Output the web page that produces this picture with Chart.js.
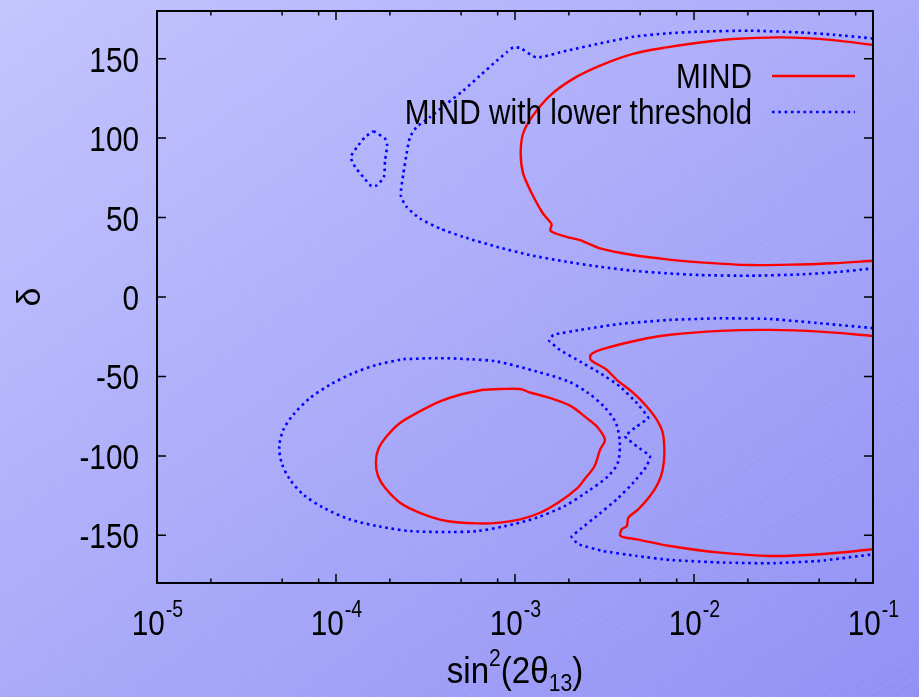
<!DOCTYPE html>
<html>
<head>
<meta charset="utf-8">
<title>MIND contours</title>
<script src="https://cdn.jsdelivr.net/npm/chart.js@4.4.1/dist/chart.umd.min.js"></script>
<style>
  html, body { margin: 0; padding: 0; }
  body {
    width: 919px;
    height: 697px;
    overflow: hidden;
    background:
      repeating-linear-gradient(-30deg, rgba(255,255,255,0.05) 0 1px, transparent 1px 9px),
      linear-gradient(to bottom right, #c4c4fe, #aaaaf9 50%, #9191f5);
  }
  canvas { display: block; }
</style>
</head>
<body>
<canvas id="contourChart" width="919" height="697"></canvas>
<script>
// ---------------- AXES ----------------
const xTickValues = [1e-5, 1e-4, 1e-3, 1e-2, 1e-1];
const xTickExponents = ["-5", "-4", "-3", "-2", "-1"];
const xMinorSteps = [2, 5, 8];
const yTickValues = [-150, -100, -50, 0, 50, 100, 150];

// ---------------- MIND (red) ----------------
const mindUpperX = [0.1, 0.0598, 0.0314, 0.0165, 0.0108, 7.04e-3, 4.56e-3, 2.99e-3, 2.11e-3, 1.57e-3,
  1.26e-3, 1.11e-3, 1.076e-3, 1.11e-3, 1.24e-3, 1.43e-3, 1.60e-3, 1.58e-3, 1.94e-3, 2.31e-3,
  2.99e-3, 4.56e-3, 7.04e-3, 0.0108, 0.0206, 0.0391, 0.0598, 0.1];
const mindUpperY = [158.6, 161.7, 163.4, 162.4, 160.2, 157.1, 153.0, 145.6, 137.3, 126.8,
  114.2, 102.9, 90.4, 77.8, 65.3, 52.7, 45.8, 41.6, 37.8, 35.8,
  30.6, 26.4, 23.7, 21.8, 20.1, 20.5, 21.2, 22.8];

const mindLowerX = [0.1, 0.0506, 0.0266, 0.014, 7.34e-3, 4.79e-3, 2.99e-3, 2.65e-3, 2.65e-3, 3.25e-3,
  3.70e-3, 4.58e-3, 5.44e-3, 6.19e-3, 6.69e-3, 6.83e-3, 6.69e-3, 6.32e-3, 5.68e-3, 4.88e-3,
  4.30e-3, 4.21e-3, 3.94e-3, 3.89e-3, 4.79e-3, 7.34e-3, 0.014, 0.0266, 0.0506, 0.1];
const mindLowerY = [-24.5, -21.8, -20.7, -21.3, -23.8, -27.4, -33.3, -36.4, -39.5, -45.8,
  -52.1, -60.4, -68.9, -77.2, -85.5, -98.1, -108.6, -116.9, -125.3, -133.7,
  -138.9, -144.2, -146.2, -150.4, -152.5, -156.7, -160.9, -163.0, -161.9, -158.8];

const mindIslandX = [6.65e-4, 8.25e-4, 1.07e-3, 1.21e-3, 1.50e-3, 2.03e-3, 2.51e-3, 2.86e-3, 3.18e-3, 2.99e-3,
  2.78e-3, 2.44e-3, 2.24e-3, 1.78e-3, 1.38e-3, 1.07e-3, 8.25e-4, 6.11e-4, 4.15e-4, 2.94e-4,
  2.28e-4, 1.88e-4, 1.72e-4, 1.67e-4, 1.72e-4, 1.92e-4, 2.28e-4, 2.94e-4, 3.81e-4, 4.93e-4, 6.65e-4];
const mindIslandY = [-58.4, -57.9, -57.9, -60.1, -62.9, -68.4, -76.1, -81.4, -89.8, -96.0,
  -106.5, -114.9, -120.1, -128.7, -135.8, -140.0, -142.0, -142.5, -141.0, -135.8,
  -129.5, -120.1, -112.8, -104.4, -96.0, -87.7, -79.3, -72.0, -65.7, -61.5, -58.4];

// ---------------- MIND with lower threshold (blue) ----------------
const lowUpperX = [0.1, 0.06, 0.0391, 0.0206, 0.0108, 7.04e-3, 4.58e-3, 2.99e-3, 1.94e-3, 1.32e-3,
  1.07e-3, 9.78e-4, 8.99e-4, 7.90e-4, 6.37e-4, 5.14e-4, 4.15e-4, 3.35e-4, 2.82e-4, 2.59e-4,
  2.48e-4, 2.38e-4, 2.30e-4, 2.48e-4, 2.94e-4, 3.81e-4, 5.14e-4, 7.90e-4, 1.21e-3, 1.94e-3,
  2.99e-3, 4.58e-3, 7.04e-3, 0.0108, 0.0206, 0.0391, 0.06, 0.1];
const lowUpperY = [162.7, 165.1, 166.5, 167.6, 167.0, 165.9, 163.8, 159.6, 155.0, 150.8,
  156.7, 157.1, 154.0, 148.7, 139.3, 129.9, 121.6, 113.2, 106.9, 100.6,
  90.2, 77.6, 64.0, 56.7, 49.4, 43.1, 37.8, 31.6, 26.4, 22.2,
  19.0, 16.5, 14.9, 13.8, 13.4, 14.2, 15.5, 18.0];

const lowSpotX = [1.62e-4, 1.88e-4, 1.93e-4, 1.88e-4, 1.85e-4, 1.69e-4, 1.58e-4, 1.42e-4, 1.28e-4, 1.21e-4,
  1.31e-4, 1.45e-4, 1.62e-4];
const lowSpotY = [104.4, 99.6, 95.4, 86.0, 75.5, 70.3, 69.7, 75.5, 81.8, 88.1,
  94.3, 100.6, 104.4];

const lowLowerX = [0.1, 0.0506, 0.0266, 0.014, 7.34e-3, 3.86e-3, 2.31e-3, 1.64e-3, 1.55e-3, 1.78e-3,
  2.31e-3, 2.99e-3, 3.86e-3, 4.79e-3, 5.55e-3, 4.79e-3, 4.12e-3, 4.79e-3, 5.68e-3, 5.44e-3,
  4.58e-3, 3.70e-3, 2.86e-3, 2.31e-3, 2.07e-3, 2.26e-3, 3.11e-3, 4.79e-3, 7.34e-3, 0.014,
  0.0266, 0.0506, 0.1];
const lowLowerY = [-19.6, -16.5, -13.8, -13.4, -14.4, -16.9, -20.7, -23.8, -27.4, -33.3,
  -40.6, -47.9, -56.3, -66.7, -76.1, -81.4, -87.7, -94.0, -100.2, -106.5,
  -116.9, -127.4, -137.9, -146.2, -150.8, -155.6, -159.9, -163.0, -165.5, -167.1,
  -167.6, -166.1, -161.9];

const lowIslandX = [2.38e-4, 3.72e-4, 5.61e-4, 7.93e-4, 1.32e-3, 1.99e-3, 2.56e-3, 3.14e-3, 3.66e-3, 3.85e-3,
  3.75e-3, 3.31e-3, 2.56e-3, 1.89e-3, 1.32e-3, 8.79e-4, 6.11e-4, 4.32e-4, 2.59e-4, 1.76e-4,
  1.20e-4, 8.49e-5, 6.57e-5, 5.53e-5, 4.97e-5, 4.82e-5, 5.08e-5, 5.77e-5, 7.16e-5, 9.26e-5,
  1.25e-4, 1.69e-4, 2.38e-4];
const lowIslandY = [-39.1, -38.5, -39.2, -40.6, -46.9, -53.2, -60.4, -68.9, -79.3, -91.8,
  -104.4, -112.8, -122.2, -131.6, -138.9, -144.2, -147.3, -147.9, -147.3, -144.5,
  -140.0, -132.6, -124.3, -114.9, -104.4, -94.0, -83.5, -74.1, -63.6, -55.2,
  -47.9, -42.7, -39.1];

// ---------------- STYLE ----------------
const FONT = '"Liberation Sans", Arial, sans-serif';
const NARROW = 0.85; // the original lettering is a condensed Helvetica
const RED = "#ff0000";
const BLUE = "#0000ff";

function toPoints(xs, ys) {
  return xs.map((v, i) => ({ x: v, y: ys[i] }));
}

function mindSet(xs, ys, label, tension) {
  return { label, legend: !!label, data: toPoints(xs, ys), borderColor: RED, borderWidth: 2.4,
    showLine: true, pointRadius: 0, tension, fill: false };
}
function lowSet(xs, ys, label, tension) {
  return { label, legend: !!label, data: toPoints(xs, ys), borderColor: BLUE, borderWidth: 2.6,
    borderDash: [2.6, 3.7], showLine: true, pointRadius: 0, tension, fill: false };
}

// condensed text, returns drawn width
function narrowText(ctx, text, x, y, size, align, sx = NARROW) {
  ctx.save();
  ctx.font = `${size}px ${FONT}`;
  const w = ctx.measureText(text).width * sx;
  const x0 = align === "right" ? x - w : align === "center" ? x - w / 2 : x;
  ctx.translate(x0, y);
  ctx.scale(sx, 1);
  ctx.textAlign = "left";
  ctx.fillText(text, 0, 0);
  ctx.restore();
  return w;
}
function textWidth(ctx, text, size, sx = NARROW) {
  ctx.font = `${size}px ${FONT}`;
  return ctx.measureText(text).width * sx;
}

// gnuplot-like frame, inward ticks, labels and key
const gnuplotDecor = {
  id: "gnuplotDecor",
  afterDatasetsDraw(chart) {
    const { ctx, chartArea: a, scales: { x, y } } = chart;
    ctx.save();

    // ticks
    ctx.strokeStyle = "#000";
    ctx.lineWidth = 1.5;
    ctx.beginPath();
    const vTick = (px, len) => {
      ctx.moveTo(px, a.bottom); ctx.lineTo(px, a.bottom - len);
      ctx.moveTo(px, a.top); ctx.lineTo(px, a.top + len);
    };
    xTickValues.forEach((v, i) => {
      vTick(x.getPixelForValue(v), 9);
      if (i < xTickValues.length - 1) {
        xMinorSteps.forEach(m => vTick(x.getPixelForValue(v * m), 4.5));
      }
    });
    yTickValues.forEach(v => {
      const py = y.getPixelForValue(v);
      ctx.moveTo(a.left, py); ctx.lineTo(a.left + 9, py);
      ctx.moveTo(a.right, py); ctx.lineTo(a.right - 9, py);
    });
    ctx.stroke();

    // frame
    ctx.lineWidth = 2;
    ctx.strokeRect(a.left, a.top, a.right - a.left, a.bottom - a.top);

    ctx.fillStyle = "#000";
    ctx.textBaseline = "alphabetic";

    // y tick labels
    yTickValues.forEach(v => narrowText(ctx, String(v), a.left - 18, y.getPixelForValue(v) + 13, 35, "right"));

    // x tick labels: 10^n
    xTickValues.forEach((v, i) => {
      const wBase = textWidth(ctx, "10", 35);
      const wExp = textWidth(ctx, xTickExponents[i], 23);
      const left = x.getPixelForValue(v) - (wBase + wExp) / 2;
      narrowText(ctx, "10", left, 635, 35, "left");
      narrowText(ctx, xTickExponents[i], left + wBase + 1, 617, 23, "left");
    });

    // x title: sin^2(2θ13)
    const parts = [
      { t: "sin", s: 36, dy: 0 },
      { t: "2", s: 23, dy: -17 },
      { t: "(2θ", s: 36, dy: 0 },
      { t: "13", s: 23, dy: 8 },
      { t: ")", s: 36, dy: 0 }
    ];
    const TSX = 0.92;
    let total = 0;
    parts.forEach(p => { p.w = textWidth(ctx, p.t, p.s, TSX); total += p.w; });
    let cx = (a.left + a.right) / 2 - total / 2;
    parts.forEach(p => { narrowText(ctx, p.t, cx, 683 + p.dy, p.s, "left", TSX); cx += p.w; });

    // y title: δ
    ctx.save();
    ctx.translate(31, (a.top + a.bottom) / 2);
    ctx.rotate(-Math.PI / 2);
    ctx.textAlign = "center";
    ctx.textBaseline = "middle";
    ctx.font = `34px ${FONT}`;
    ctx.fillText("δ", 0, 0);
    ctx.restore();

    // key (top right)
    const keyRows = chart.data.datasets.filter(d => d.legend);
    keyRows.forEach((d, i) => {
      const ky = 76 + i * 36;
      narrowText(ctx, d.label, a.right - 121, ky + 12, 35, "right");
      ctx.save();
      ctx.strokeStyle = d.borderColor;
      ctx.lineWidth = d.borderWidth;
      ctx.setLineDash(d.borderDash || []);
      ctx.beginPath();
      ctx.moveTo(a.right - 101, ky);
      ctx.lineTo(a.right - 18, ky);
      ctx.stroke();
      ctx.restore();
    });

    ctx.restore();
  }
};

new Chart(document.getElementById("contourChart"), {
  type: "scatter",
  data: {
    datasets: [
      mindSet(mindUpperX, mindUpperY, "MIND", 0.3),
      lowSet(lowUpperX, lowUpperY, "MIND with lower threshold", 0.2),
      mindSet(mindLowerX, mindLowerY, "", 0.3),
      mindSet(mindIslandX, mindIslandY, "", 0.3),
      lowSet(lowSpotX, lowSpotY, "", 0.2),
      lowSet(lowLowerX, lowLowerY, "", 0.1),
      lowSet(lowIslandX, lowIslandY, "", 0.3)
    ]
  },
  options: {
    responsive: false,
    animation: false,
    devicePixelRatio: 1,
    layout: { padding: { left: 157, right: 46, top: 11, bottom: 114 } },
    plugins: { legend: { display: false }, tooltip: { enabled: false } },
    scales: {
      x: { type: "logarithmic", min: 1e-5, max: 1e-1, display: false },
      y: { type: "linear", min: -180, max: 180, display: false }
    }
  },
  plugins: [gnuplotDecor]
});
</script>
</body>
</html>
